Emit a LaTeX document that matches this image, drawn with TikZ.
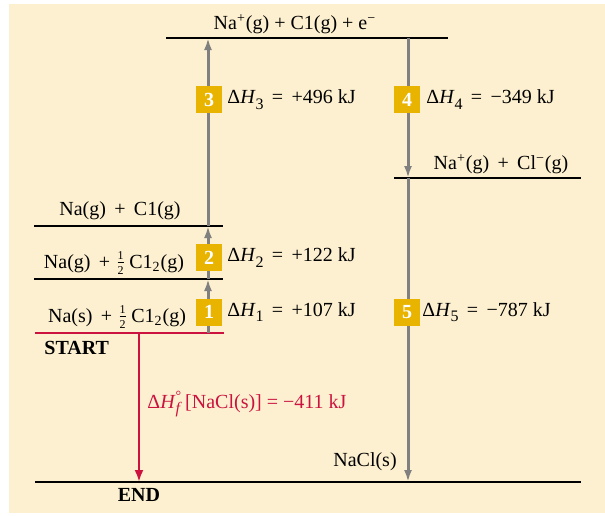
\documentclass[tikz,border=0pt]{standalone}
\usepackage{fontspec}
\setmainfont{Liberation Serif}
\usetikzlibrary{arrows.meta}

\definecolor{cream}{RGB}{253,240,208}
\definecolor{boxgold}{RGB}{232,180,0}
\definecolor{stepgray}{RGB}{128,128,128}
\definecolor{startred}{RGB}{204,18,62}

\newcommand{\halfc}{\raisebox{0.1ex}{$\frac{\mbox{\fontsize{6}{6}\selectfont 1}}{\mbox{\fontsize{6}{6}\selectfont 2}}$}}
\newcommand{\dH}[1]{Δ\textit{H}\raisebox{-0.6ex}{\footnotesize #1}}

\begin{document}
\begin{tikzpicture}[x=0.5pt, y=-0.5pt, font=\fontsize{10}{12}\selectfont,
  level/.style={line width=1pt},
  stepline/.style={stepgray, line width=1.5pt, -{Latex[length=6pt,width=4pt]}},
  numbox/.style={fill=boxgold, text=white, font=\bfseries\fontsize{10}{12}\selectfont,
    minimum width=13pt, minimum height=13.5pt, inner sep=0pt},
  dhlabel/.style={anchor=west, inner sep=0pt}]
\useasboundingbox (0,0) rectangle (605,515);
\fill[cream] (9,4) rectangle (605,513);

% columns of the cycle
\coordinate (colA) at (208,0);
\coordinate (colB) at (408,0);

% energy levels
\coordinate (top-l) at (166,38);   \coordinate (top-r) at (448,38);
\coordinate (ion-l) at (394,178);  \coordinate (ion-r) at (581,178);
\coordinate (atom-l) at (34,226);  \coordinate (atom-r) at (223,226);
\coordinate (gas-l) at (34,279);   \coordinate (gas-r) at (223,279);
\coordinate (start-l) at (35,333); \coordinate (start-r) at (224,333);
\coordinate (end-l) at (35,482);   \coordinate (end-r) at (581,482);
\coordinate (redcol) at (139,0);

\draw[level] (top-l) -- (top-r);
\draw[level] (ion-l) -- (ion-r);
\draw[level] (atom-l) -- (atom-r);
\draw[level] (gas-l) -- (gas-r);
\draw[level] (end-l) -- (end-r);
\draw[startred, line width=1pt] (start-l) -- (start-r);

% level texts
\node (topTxt) at (295,24) {Na\textsuperscript{+}(g) + C1(g) + e\textsuperscript{−}};
\node (ionTxt) at (501,164) {Na\textsuperscript{+}(g) \,+\, Cl\textsuperscript{−}(g)};
\node (atomTxt) at (120,211) {Na(g) \,+\, C1(g)};
\node (gasTxt) at (114,263) {Na(g) \,+ \halfc\,C1\textsubscript{2}(g)};
\node (startTxt) at (117,317) {Na(s) \,+ \halfc\,C1\textsubscript{2}(g)};
\node[anchor=west, inner sep=0pt, font=\bfseries\fontsize{10}{12}\selectfont] (startLbl) at (44,348) {START};
\node[font=\bfseries\fontsize{10}{12}\selectfont] (endLbl) at (139,495) {END};
\node (naclTxt) at (365,462) {NaCl(s)};

% steps of the cycle
\draw[stepline] (start-l -| colA) -- (gas-l -| colA);
\draw[stepline] (gas-l -| colA) -- (atom-l -| colA);
\draw[stepline] (atom-l -| colA) -- (top-l -| colA);
\draw[stepline] (top-l -| colB) -- (ion-l -| colB);
\draw[stepline] (ion-l -| colB) -- (end-l -| colB);
\draw[startred, line width=1.3pt, -{Latex[length=6pt,width=4.5pt]}] (start-l -| redcol) -- (end-l -| redcol);

\node[numbox] (b1) at (209,312) {1};
\node[numbox] (b2) at (209,257.5) {2};
\node[numbox] (b3) at (209,99.5) {3};
\node[numbox] (b4) at (407,99.5) {4};
\node[numbox] (b5) at (407,312) {5};

\node[dhlabel] (dh1) at (227,312) {\dH{1} \,=\, +107 kJ};
\node[dhlabel] (dh2) at (227,257.5) {\dH{2} \,=\, +122 kJ};
\node[dhlabel] (dh3) at (227,99.5) {\dH{3} \,=\, +496 kJ};
\node[dhlabel] (dh4) at (426,99.5) {\dH{4} \,=\, −349 kJ};
\node[dhlabel] (dh5) at (422,312) {\dH{5} \,=\, −787 kJ};
\node[dhlabel, text=startred] (dhf) at (147,404)
  {Δ\textit{H}\rlap{\raisebox{0.9ex}{\scriptsize\textdegree}}\raisebox{-0.6ex}{\footnotesize\textit{f}}\,[NaCl(s)] = −411 kJ};
\end{tikzpicture}
\end{document}
